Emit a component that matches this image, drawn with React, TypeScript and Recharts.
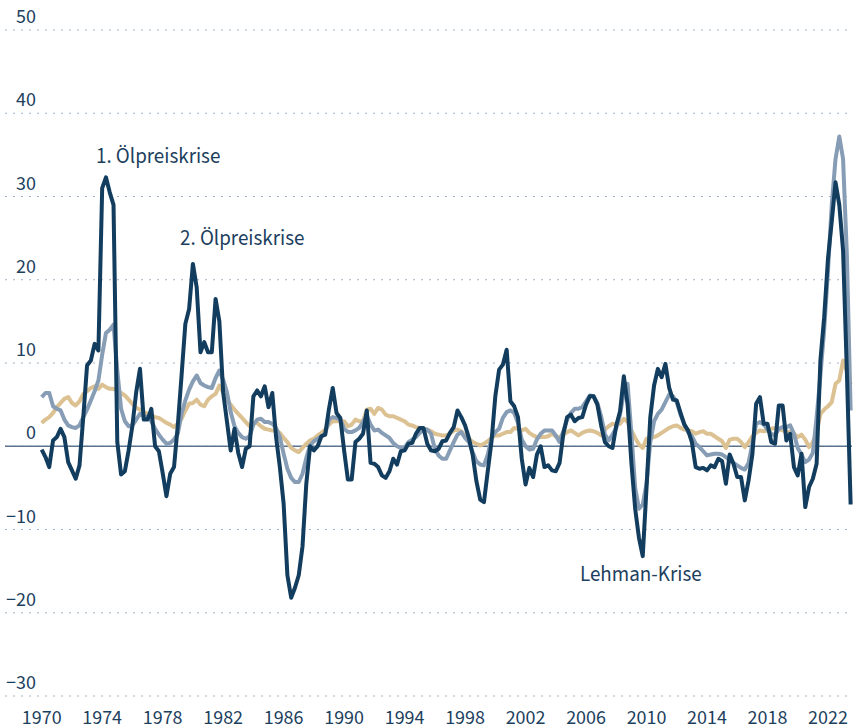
import { LineChart, Line, XAxis, YAxis, CartesianGrid, ReferenceLine, ReferenceDot } from 'recharts';

// quarterly values, 1970 Q1 – 2023 Q3 (Veränderung gegenüber Vorjahr in %)
const FIRST_YEAR = 1970;

const einfuhrpreise = [
  -0.4, -1.3, -2.5, 0.7, 1.1, 2.1, 1.1, -1.9, -2.9, -3.9, -2.3, 3.5, 9.7, 10.3, 12.3, 11.5,
  31.0, 32.3, 30.5, 29.0, 0.5, -3.4, -3.0, -0.5, 2.5, 6.5, 9.3, 3.2, 3.2, 4.5, 0.0, -0.6,
  -3.2, -6.0, -3.3, -2.5, 2.5, 8.5, 14.7, 16.5, 21.9, 19.1, 11.3, 12.5, 11.3, 11.3, 17.7, 15.0,
  6.5, 3.0, -0.5, 2.1, -0.8, -2.5, -0.3, 0.0, 6.0, 6.7, 6.0, 7.2, 4.7, 6.4, 1.1, -2.5,
  -6.9, -15.5, -18.2, -17.0, -15.5, -12.0, -4.5, 0.0, -0.5, 0.0, 1.2, 1.4, 4.5, 7.0, 4.0, 3.4,
  -0.5, -4.0, -4.0, 0.5, 0.9, 1.5, 4.3, -2.0, -2.1, -2.5, -3.5, -3.8, -3.0, -1.5, -2.2, -0.6,
  -0.5, 0.3, 0.4, 1.5, 2.2, 2.2, 0.3, -0.5, -0.6, -0.3, 0.6, 0.7, 1.6, 2.3, 4.3, 3.5,
  2.5, 1.0, -1.0, -4.2, -6.4, -6.7, -3.0, 0.6, 6.0, 9.2, 9.8, 11.6, 5.4, 4.8, 3.5, -1.5,
  -4.6, -2.6, -3.7, -1.0, 0.0, -2.5, -2.3, -2.9, -3.0, -2.0, 1.5, 3.5, 3.8, 3.0, 3.4, 3.5,
  5.0, 6.0, 6.0, 5.0, 2.5, 0.5, 0.0, -0.2, 2.5, 4.2, 8.4, 5.0, -2.0, -7.5, -11.0, -13.2,
  -5.0, 3.5, 7.3, 9.3, 8.3, 9.9, 7.0, 5.6, 5.5, 4.0, 2.6, 1.9, 0.5, -2.5, -2.7, -2.6,
  -2.9, -2.3, -2.5, -1.5, -1.8, -4.5, -1.0, -2.1, -3.7, -3.7, -6.5, -4.1, -1.0, 5.1, 5.9, 2.7,
  2.7, 0.5, 0.3, 4.9, 4.9, 0.7, 1.5, -2.5, -3.5, -0.9, -7.3, -4.9, -3.9, -2.1, 10.3, 15.5,
  22.5, 27.0, 31.7, 29.0, 23.5, 9.0, -7.0,
];

const erzeugerpreise = [
  5.9, 6.4, 6.4, 4.8, 4.5, 4.3, 3.2, 2.5, 2.3, 2.2, 2.5, 3.5, 4.4, 5.5, 6.6, 7.9,
  11.0, 13.6, 14.0, 14.6, 9.1, 4.5, 3.0, 2.4, 2.5, 3.2, 3.9, 3.6, 3.5, 3.0, 2.1, 1.4,
  0.8, 0.3, 0.4, 0.8, 1.5, 3.9, 5.5, 6.8, 7.8, 8.5, 7.6, 7.3, 7.1, 7.0, 8.2, 9.1,
  8.0, 6.5, 4.1, 2.4, 1.6, 1.1, 0.9, 1.2, 2.6, 3.2, 3.3, 2.9, 2.9, 2.7, 2.2, 1.1,
  -0.9, -2.7, -3.8, -4.3, -4.3, -3.3, -1.4, 0.1, 0.6, 0.9, 1.2, 1.5, 3.2, 3.5, 3.4, 3.2,
  2.1, 1.7, 1.7, 1.9, 2.2, 2.9, 3.7, 2.6, 1.9, 2.0, 1.6, 1.3, 1.0, 0.4, 0.0, -0.2,
  -0.2, 0.5, 0.8, 1.1, 1.6, 2.0, 2.0, 1.5, -0.3, -1.1, -1.5, -1.5, -0.5, 0.5, 1.4, 1.7,
  1.0, 0.5, -0.7, -1.8, -2.2, -2.3, -1.0, 1.0, 1.7, 2.1, 3.4, 4.1, 4.3, 4.0, 2.8, 0.8,
  0.0, -0.4, -0.3, 0.8, 1.5, 1.9, 1.9, 1.9, 1.3, 0.5, 1.8, 3.2, 4.0, 4.5, 4.5, 4.7,
  5.4, 6.1, 6.0, 5.2, 3.6, 1.4, 0.7, 1.4, 2.2, 3.8, 6.5, 7.5, 1.5, -5.0, -7.5, -7.0,
  -4.5, 0.5, 3.0, 3.9, 4.4, 5.3, 6.2, 6.0, 5.3, 3.8, 2.7, 1.7, 1.2, 0.3, -0.1, -0.6,
  -1.1, -1.0, -0.9, -0.9, -1.0, -1.3, -1.7, -2.0, -2.3, -2.6, -2.8, -2.0, 0.3, 2.7, 2.9, 2.6,
  2.0, 1.5, 1.3, 2.1, 2.3, 2.3, 2.5, 1.5, -0.2, -1.0, -1.9, -1.6, -0.8, 3.5, 8.5, 14.0,
  21.0, 29.0, 34.5, 37.2, 34.5, 23.0, 4.3,
];

const verbraucherpreise = [
  2.8, 3.2, 3.5, 4.0, 4.7, 5.2, 5.7, 5.9, 5.2, 4.9, 5.4, 6.3, 6.6, 7.0, 7.2, 6.9,
  7.4, 7.1, 6.9, 6.9, 6.7, 6.4, 6.1, 5.6, 5.1, 4.6, 4.4, 4.1, 3.9, 3.7, 3.5, 3.4,
  3.1, 2.8, 2.6, 2.3, 2.7, 3.3, 4.3, 5.1, 5.2, 5.6, 5.0, 4.8, 5.6, 6.0, 6.3, 7.3,
  6.5, 5.6, 5.0, 4.4, 3.9, 3.4, 2.9, 2.4, 2.8, 2.8, 2.4, 2.1, 2.0, 1.9, 1.9, 1.6,
  1.0, 0.5, -0.2, -0.5, -0.7, -0.2, 0.3, 0.7, 0.9, 1.3, 1.6, 2.0, 2.6, 3.0, 3.0, 3.0,
  3.0, 2.4, 2.6, 3.2, 3.0, 3.0, 4.4, 4.5, 3.9, 4.6, 4.4, 3.8, 3.6, 3.6, 3.4, 3.2,
  3.0, 2.6, 2.5, 2.3, 2.2, 2.1, 2.0, 1.8, 1.5, 1.4, 1.3, 1.3, 1.5, 1.9, 2.0, 1.8,
  1.2, 0.9, 0.5, 0.3, 0.1, 0.3, 0.6, 1.0, 1.3, 1.3, 1.5, 1.7, 1.7, 2.2, 2.1, 1.9,
  2.1, 1.6, 1.3, 1.1, 1.1, 1.1, 1.2, 1.5, 1.2, 1.1, 1.4, 1.7, 1.9, 1.6, 1.3, 1.6,
  1.8, 1.9, 1.8, 1.6, 1.3, 2.0, 2.4, 2.7, 2.6, 2.7, 3.3, 2.9, 1.9, 1.0, 0.2, -0.2,
  0.9, 1.0, 1.1, 1.3, 1.6, 1.9, 2.2, 2.4, 2.5, 2.2, 2.0, 1.9, 1.8, 1.5, 1.7, 1.8,
  1.5, 1.5, 1.2, 0.9, 0.6, -0.2, 0.8, 0.9, 0.9, 0.5, -0.1, 0.5, 1.2, 1.6, 1.9, 1.8,
  1.9, 2.1, 2.2, 2.1, 1.9, 1.8, 1.7, 1.5, 1.1, 1.4, 0.8, -0.1, 0.5, 1.6, 3.9, 4.4,
  4.8, 5.3, 7.5, 7.9, 10.3, 9.0, 7.4,
];

const yTicks = [-30, -20, -10, 0, 10, 20, 30, 40, 50];
const xTicks = [1970, 1974, 1978, 1982, 1986, 1990, 1994, 1998, 2002, 2006, 2010, 2014, 2018, 2022];

const annotations = [
  { t: 1973.59, v: 34.0, text: '1. Ölpreiskrise' },
  { t: 1979.15, v: 24.2, text: '2. Ölpreiskrise' },
  { t: 2005.6, v: -16.2, text: 'Lehman-Krise' },
];

const rows = einfuhrpreise.map((v, i) => ({
  t: FIRST_YEAR + i / 4,
  einfuhr: v,
  erzeuger: erzeugerpreise[i],
  verbraucher: verbraucherpreise[i],
}));

const FONT = "'Source Sans Pro', 'Source Sans 3', Lato, sans-serif";
const TEXT = '#1d3f5e';
const NAVY = '#123d5e';
const GREY = '#869db5';
const TAN = '#dcc192';

const W = 860;
const H = 728;
const PLOT_BOTTOM = 696;

function YTick(props: any) {
  const { y, payload } = props;
  const label = String(payload.value).replace('-', '\u2212');
  return (
    <text x={36} y={y - 7} textAnchor="end" fill={TEXT} fontFamily={FONT} fontSize={20}>
      {label}
    </text>
  );
}

function XTick(props: any) {
  const { x, payload } = props;
  return (
    <text x={x} y={PLOT_BOTTOM + 28} textAnchor="middle" fill={TEXT} fontFamily={FONT} fontSize={20}>
      {payload.value}
    </text>
  );
}

function noteShape(text: string) {
  return (p: any) => (
    <text x={p.cx} y={p.cy} textAnchor="start" fill={TEXT} fontFamily={FONT} fontSize={21}>
      {text}
    </text>
  );
}

export default function App() {
  return (
    <div style={{ position: 'absolute', left: 0, top: 0, width: W, height: H, background: '#fff' }}>
      <LineChart width={W} height={H} data={rows} margin={{ top: 30, right: 8, bottom: 0, left: 4 }}>
        <CartesianGrid vertical={false} stroke="#9fb3c8" strokeDasharray="2 6" strokeWidth={1.2} />
        <XAxis
          type="number"
          dataKey="t"
          domain={[1967.573, 2023.59]}
          ticks={xTicks}
          axisLine={false}
          tickLine={false}
          height={32}
          tick={<XTick />}
          interval={0}
        />
        <YAxis
          type="number"
          domain={[-30, 50]}
          ticks={yTicks}
          axisLine={false}
          tickLine={false}
          width={1}
          tick={<YTick />}
          interval={0}
        />
        <ReferenceLine y={0} stroke="#5b7591" strokeWidth={1.3} />
        <Line
          type="linear"
          dataKey="verbraucher"
          stroke={TAN}
          strokeWidth={4}
          dot={false}
          strokeLinejoin="round"
          isAnimationActive={false}
        />
        <Line
          type="linear"
          dataKey="erzeuger"
          stroke={GREY}
          strokeWidth={4}
          dot={false}
          strokeLinejoin="round"
          isAnimationActive={false}
        />
        <Line
          type="linear"
          dataKey="einfuhr"
          stroke={NAVY}
          strokeWidth={4}
          dot={false}
          strokeLinejoin="round"
          isAnimationActive={false}
        />
        {annotations.map((a) => (
          <ReferenceDot key={a.text} x={a.t} y={a.v} r={0} shape={noteShape(a.text)} />
        ))}
      </LineChart>
    </div>
  );
}
